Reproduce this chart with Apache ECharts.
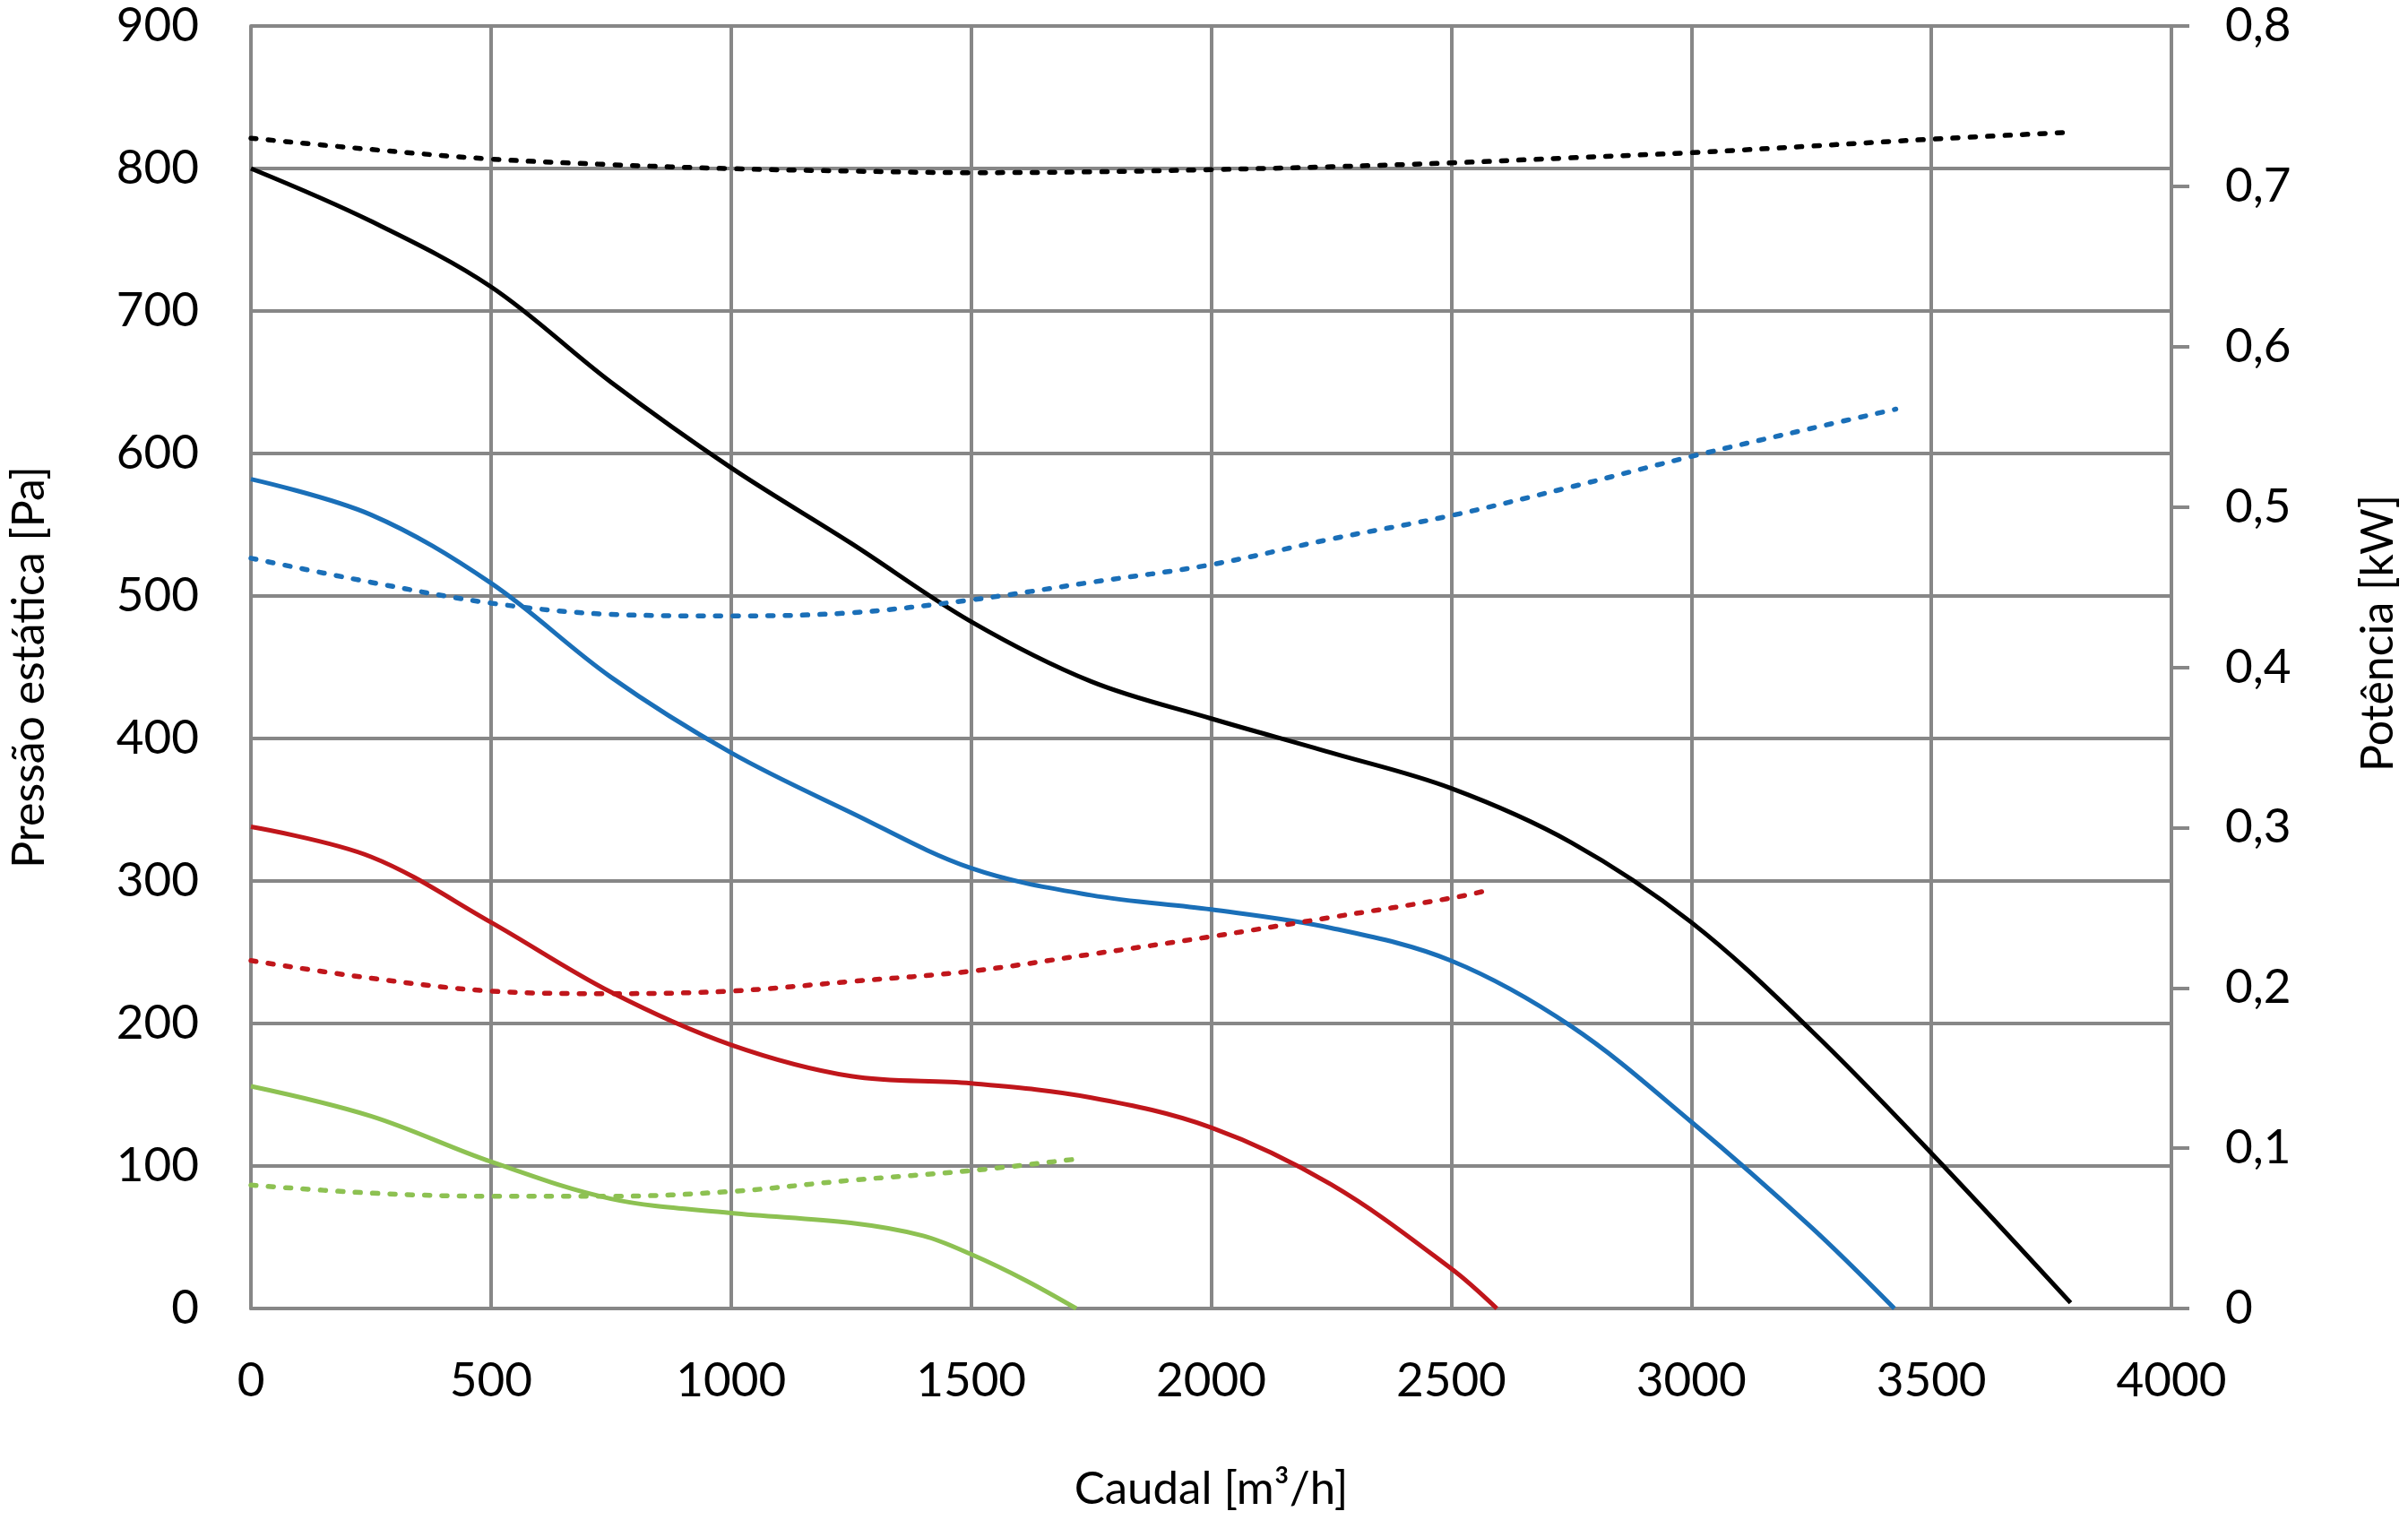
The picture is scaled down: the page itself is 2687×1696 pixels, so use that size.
<!DOCTYPE html>
<html>
<head>
<meta charset="utf-8">
<script src="https://cdn.jsdelivr.net/npm/echarts@6/dist/echarts.min.js"></script>
<style>
html,body{margin:0;padding:0;background:#fff;}
#chart{width:2687px;height:1696px;}
</style>
</head>
<body>
<div id="chart"></div>
<script>
// Flow [m3/h] / static pressure [Pa] and power [kW]
const blackPressure = [[0,800],[250,763],[500,717],[750,650],[1000,590],[1250,537],[1500,482],[1750,440],[2000,414],[2250,390],[2500,365],[2750,327],[3000,271],[3250,195],[3500,109],[3790,4]];
const blackPower = [[0,0.730],[250,0.723],[500,0.717],[750,0.7135],[1000,0.711],[1250,0.7095],[1500,0.7085],[1750,0.709],[2000,0.7104],[2250,0.7122],[2500,0.7146],[2750,0.7178],[3000,0.721],[3250,0.7251],[3500,0.7294],[3773,0.7335]];
const bluePressure = [[0,582],[250,557],[500,509],[750,443],[1000,390],[1250,348],[1500,309],[1750,290],[2000,280],[2250,267],[2500,244],[2750,198],[3000,131],[3250,57],[3423,0]];
const bluePower = [[0,0.468],[250,0.453],[500,0.440],[750,0.433],[1000,0.432],[1250,0.434],[1500,0.442],[1750,0.453],[2000,0.464],[2250,0.480],[2500,0.4946],[2750,0.5125],[3000,0.5315],[3250,0.549],[3426,0.561]];
const redPressure = [[0,338],[250,317],[500,271],[750,222],[1000,185],[1250,163],[1500,158],[1750,148],[2000,127],[2250,87],[2500,28],[2595,0]];
const redPower = [[0,0.217],[250,0.206],[500,0.198],[750,0.1964],[1000,0.198],[1250,0.204],[1500,0.2104],[1750,0.221],[2000,0.232],[2250,0.244],[2500,0.256],[2579,0.261]];
const greenPressure = [[0,156],[250,135],[500,103],[750,77],[1000,67],[1250,60],[1400,51],[1500,38],[1612,20],[1719,0]];
const greenPower = [[0,0.077],[250,0.072],[500,0.070],[750,0.070],[1000,0.073],[1250,0.080],[1500,0.086],[1713,0.093]];

const xTitle = 'Caudal [m³/h]';
const yLeftTitle = 'Pressão estática [Pa]';
const yRightTitle = 'Potência [kW]';

const FONT = 'Lato';
const GRID = '#878787';
const C_BLACK = '#000000', C_BLUE = '#1A6FB8', C_RED = '#C0161B', C_GREEN = '#8DC152';

const chart = echarts.init(document.getElementById('chart'));

function solid(name, data, color){
  return {name, type:'line', data, yAxisIndex:0, smooth:0.35, showSymbol:false, symbol:'none',
    lineStyle:{color, width:5}, z:3};
}
function dotted(name, data, color){
  return {name, type:'line', data, yAxisIndex:1, smooth:0.35, showSymbol:false, symbol:'none',
    lineStyle:{color, width:5.5, type:[6,13.4], cap:'round'}, z:3};
}

chart.setOption({
  animation:false,
  backgroundColor:'#fff',
  grid:{left:278, right:262, top:29, bottom:236, containLabel:false},
  xAxis:{
    type:'value', min:0, max:4000, interval:500,
    axisLine:{show:true, lineStyle:{color:GRID, width:4}},
    axisTick:{show:false},
    splitLine:{show:true, lineStyle:{color:GRID, width:4}},
    axisLabel:{color:'#000', fontFamily:FONT, fontSize:53, margin:54, formatter:v => String(v)},
    name:xTitle, nameLocation:'middle', nameGap:176,
    nameTextStyle:{color:'#000', fontFamily:FONT, fontSize:51}
  },
  yAxis:[{
    type:'value', min:0, max:900, interval:100, position:'left',
    axisLine:{show:true, lineStyle:{color:GRID, width:4}},
    axisTick:{show:false},
    splitLine:{show:true, lineStyle:{color:GRID, width:4}},
    axisLabel:{color:'#000', fontFamily:FONT, fontSize:53, margin:58, formatter:v => String(v)},
    name:yLeftTitle, nameLocation:'middle', nameGap:222,
    nameTextStyle:{color:'#000', fontFamily:FONT, fontSize:50}
  },{
    type:'value', min:0, max:0.8, interval:0.1, position:'right',
    axisLine:{show:true, lineStyle:{color:GRID, width:4}},
    axisTick:{show:true, length:20, lineStyle:{color:GRID, width:4}},
    splitLine:{show:false},
    axisLabel:{color:'#000', fontFamily:FONT, fontSize:53, margin:60,
      formatter:v => v===0 ? '0' : v.toFixed(1).replace('.', ',')},
    name:yRightTitle, nameLocation:'middle', nameGap:206,
    nameTextStyle:{color:'#000', fontFamily:FONT, fontSize:50, padding:[0,0,0,76]}
  }],
  series:[
    solid('Pressão - preto', blackPressure, C_BLACK),
    dotted('Potência - preto', blackPower, C_BLACK),
    solid('Pressão - azul', bluePressure, C_BLUE),
    dotted('Potência - azul', bluePower, C_BLUE),
    solid('Pressão - vermelho', redPressure, C_RED),
    dotted('Potência - vermelho', redPower, C_RED),
    solid('Pressão - verde', greenPressure, C_GREEN),
    dotted('Potência - verde', greenPower, C_GREEN)
  ]
});
</script>
</body>
</html>
